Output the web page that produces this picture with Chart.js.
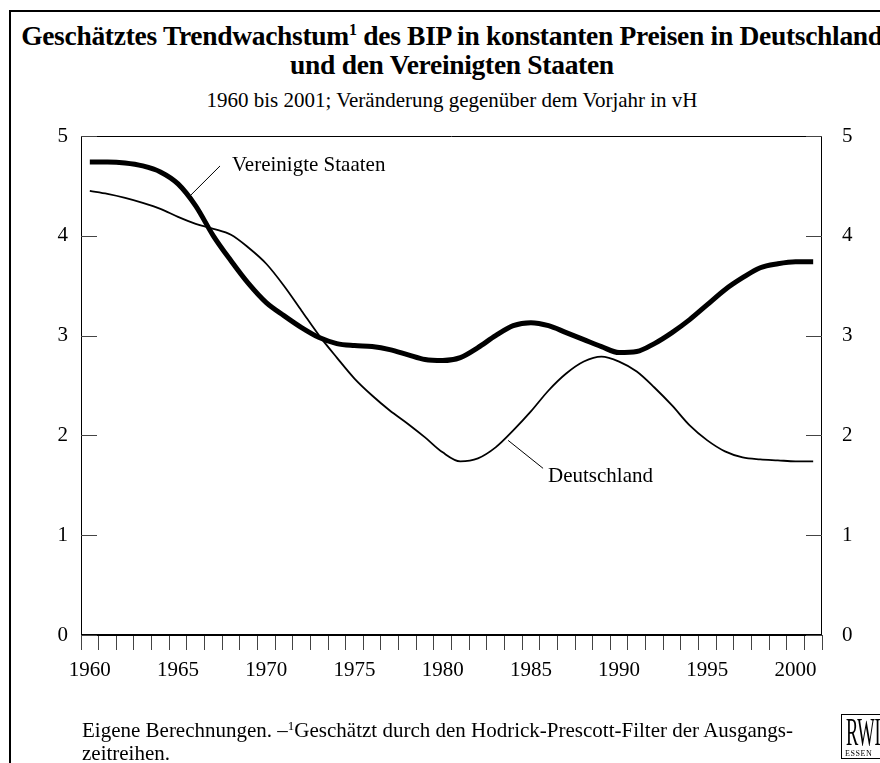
<!DOCTYPE html>
<html>
<head>
<meta charset="utf-8">
<script src="https://cdn.jsdelivr.net/npm/chart.js@4.4.1/dist/chart.umd.min.js"></script>
<style>
html, body { margin: 0; padding: 0; width: 880px; height: 763px; overflow: hidden; background: #fff; }
body { position: relative; font-family: 'Liberation Serif', 'Times New Roman', serif; color: #000; }
#frame { position: absolute; left: 9px; top: 10px; width: 900px; height: 800px; border-left: 2px solid #000; border-top: 2px solid #000; }
#title { position: absolute; left: -48px; width: 1000px; top: 23px; text-align: center; font-weight: bold; font-size: 27.5px; line-height: 25px; white-space: nowrap; letter-spacing: -0.3px; }
#subtitle { position: absolute; left: -48px; width: 1000px; top: 90px; text-align: center; font-size: 21px; line-height: 21px; white-space: nowrap; }
.sup { position: relative; top: -10px; font-size: 16px; }
.sup2 { position: relative; top: -7px; font-size: 13px; }
#note { position: absolute; left: 82px; top: 720px; font-size: 21px; line-height: 20px; white-space: nowrap; }
#logo { position: absolute; left: 841px; top: 714px; width: 80px; height: 45px; border: 1px solid #000; box-sizing: border-box; overflow: hidden; }
#logo .big { position: absolute; left: 4px; top: -3px; font-size: 40px; line-height: 40px; transform: scaleX(0.46); transform-origin: left top; }
#logo .small { position: absolute; left: 3px; top: 35px; font-size: 8px; line-height: 8px; letter-spacing: 0.6px; }
canvas { position: absolute; left: 0; top: 0; }
</style>
</head>
<body>
<div id="frame"></div>
<div id="title">Geschätztes Trendwachstum<span class="sup">1</span> des BIP in konstanten Preisen in Deutschland<br>und den Vereinigten Staaten</div>
<div id="subtitle">1960 bis 2001; Veränderung gegenüber dem Vorjahr in vH</div>
<canvas id="mycanvas" width="880" height="763"></canvas>
<div id="note">Eigene Berechnungen. –<span class="sup2">1</span>Geschätzt durch den Hodrick-Prescott-Filter der Ausgangs-<br>zeitreihen.</div>
<div id="logo"><span class="big">RWI</span><span class="small">ESSEN</span></div>
<script>
// Jahre (Kategorien)
var jahre = ['1960','1961','1962','1963','1964','1965','1966','1967','1968','1969',
	'1970','1971','1972','1973','1974','1975','1976','1977','1978','1979',
	'1980','1981','1982','1983','1984','1985','1986','1987','1988','1989',
	'1990','1991','1992','1993','1994','1995','1996','1997','1998','1999',
	'2000','2001'];
// beschriftete Jahre an der x-Achse
var jahrLabels = ['1960','1965','1970','1975','1980','1985','1990','1995','2000'];
// Werte in vH
var vereinigteStaaten = [4.74,4.74,4.73,4.70,4.64,4.52,4.30,4.00,3.75,3.52,
	3.33,3.20,3.08,2.98,2.92,2.90,2.89,2.86,2.81,2.76,
	2.75,2.78,2.88,3.00,3.10,3.13,3.10,3.03,2.96,2.89,
	2.83,2.84,2.92,3.03,3.16,3.31,3.46,3.58,3.68,3.72,
	3.74,3.74];
var deutschland = [4.45,4.42,4.38,4.33,4.27,4.19,4.12,4.07,4.01,3.88,
	3.72,3.50,3.25,3.00,2.78,2.57,2.40,2.25,2.12,1.98,
	1.83,1.74,1.77,1.88,2.05,2.24,2.45,2.62,2.74,2.79,
	2.74,2.64,2.48,2.30,2.10,1.95,1.84,1.78,1.76,1.75,
	1.74,1.74];
var yWerte = [0,1,2,3,4,5];

var schrift = "'Liberation Serif', 'Times New Roman', serif";

// Rahmen, Striche nach innen, Beschriftungen der Linien
var rahmen = {
	id: 'rahmen',
	afterDraw: function(chart) {
		var ctx = chart.ctx;
		var a = chart.chartArea;
		var x = chart.scales.x, y = chart.scales.y;
		ctx.save();
		ctx.strokeStyle = '#000';
		ctx.lineWidth = 1;
		ctx.beginPath();
		ctx.moveTo(a.left + 0.5, a.bottom);
		ctx.lineTo(a.left + 0.5, a.top + 0.5);
		ctx.lineTo(a.right - 0.5, a.top + 0.5);
		ctx.lineTo(a.right - 0.5, a.bottom);
		ctx.stroke();
		ctx.lineWidth = 2;
		ctx.beginPath();
		ctx.moveTo(a.left, a.bottom);
		ctx.lineTo(a.right, a.bottom);
		ctx.stroke();
		// kurze Striche nach innen
		ctx.strokeStyle = '#444';
		ctx.lineWidth = 1;
		yWerte.forEach(function(v) {
			var py = Math.round(y.getPixelForValue(v)) + 0.5;
			ctx.beginPath();
			ctx.moveTo(a.left, py); ctx.lineTo(a.left + 16, py);
			ctx.moveTo(a.right - 16, py); ctx.lineTo(a.right, py);
			ctx.stroke();
		});
		// Beschriftung der Kurven
		ctx.strokeStyle = '#000';
		ctx.lineWidth = 1;
		ctx.beginPath();
		ctx.moveTo(x.getPixelForValue(7.38), y.getPixelForValue(4.70));
		ctx.lineTo(x.getPixelForValue(5.68), y.getPixelForValue(4.40));
		ctx.moveTo(x.getPixelForValue(25.69), y.getPixelForValue(1.67));
		ctx.lineTo(x.getPixelForValue(23.71), y.getPixelForValue(1.95));
		ctx.stroke();
		ctx.fillStyle = '#000';
		ctx.font = '21px ' + schrift;
		ctx.textBaseline = 'alphabetic';
		ctx.textAlign = 'left';
		ctx.fillText('Vereinigte Staaten', x.getPixelForValue(8.06), y.getPixelForValue(4.65));
		ctx.fillText('Deutschland', x.getPixelForValue(25.97), y.getPixelForValue(1.53));
		ctx.restore();
	}
};

var ctx = document.getElementById('mycanvas');
var wykres = new Chart(ctx, {
	type: 'line',
	data: {
		labels: jahre,
		datasets: [
			{
				label: 'Vereinigte Staaten',
				data: vereinigteStaaten,
				borderColor: '#000',
				borderWidth: 5,
				borderCapStyle: 'butt',
				pointRadius: 0,
				cubicInterpolationMode: 'monotone',
				fill: false
			},
			{
				label: 'Deutschland',
				data: deutschland,
				borderColor: '#000',
				borderWidth: 1.8,
				pointRadius: 0,
				cubicInterpolationMode: 'monotone',
				fill: false
			}
		]
	},
	options: {
		responsive: false,
		animation: false,
		devicePixelRatio: 1,
		layout: { padding: { top: 136, left: 0, right: 0, bottom: 0 } },
		plugins: { legend: { display: false }, tooltip: { enabled: false } },
		scales: {
			x: {
				type: 'category',
				offset: true,
				afterFit: function(s) { s.height = 128; },
				grid: { offset: true, drawOnChartArea: false, drawTicks: true, tickLength: 15, color: '#444', lineWidth: 1 },
				border: { display: false },
				ticks: {
					autoSkip: false, maxRotation: 0, minRotation: 0, padding: 8,
					color: '#000', font: { family: schrift, size: 21 },
					callback: function(v, i) { var j = jahre[i]; return jahrLabels.indexOf(j) >= 0 ? j : ''; }
				}
			},
			y: {
				position: 'left', min: 0, max: 5,
				afterFit: function(s) { s.width = 81; },
				grid: { display: false, drawTicks: false },
				border: { display: false },
				ticks: { stepSize: 1, padding: 13, color: '#000', font: { family: schrift, size: 21 } }
			},
			y1: {
				position: 'right', min: 0, max: 5,
				afterFit: function(s) { s.width = 58; },
				grid: { display: false, drawTicks: false },
				border: { display: false },
				ticks: { stepSize: 1, padding: 20, color: '#000', font: { family: schrift, size: 21 } }
			}
		}
	},
	plugins: [rahmen]
});
</script>
</body>
</html>
